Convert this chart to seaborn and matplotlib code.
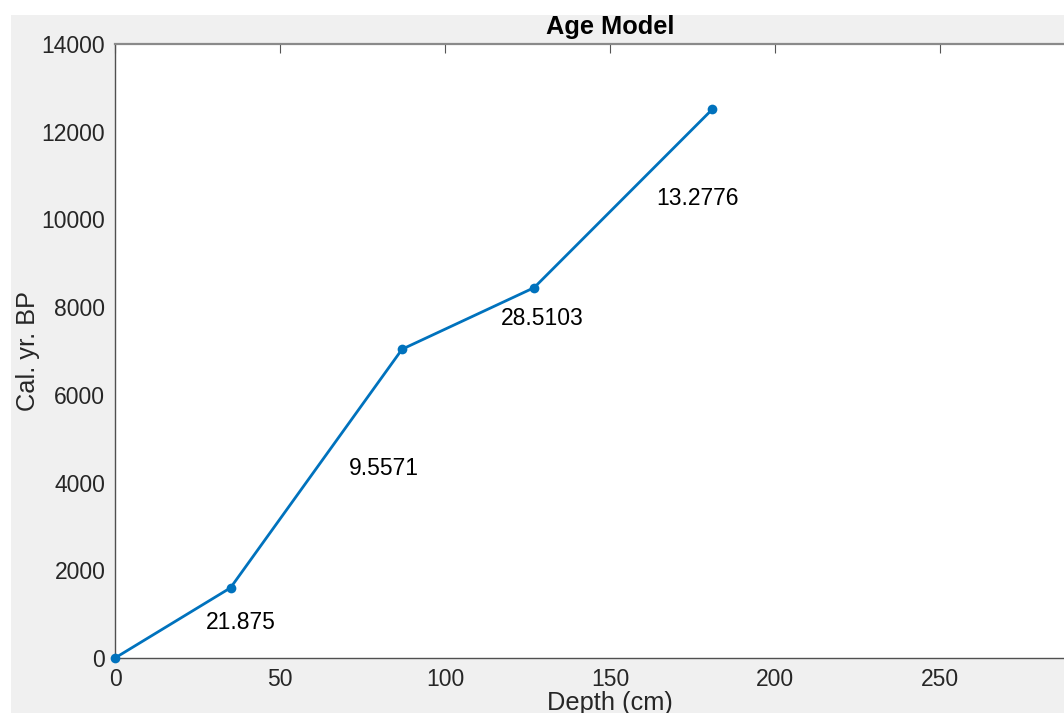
import matplotlib
matplotlib.use("Agg")
import matplotlib.pyplot as plt
from matplotlib.patches import Rectangle
import seaborn as sns
import pandas as pd

depth = [0, 35, 87, 127, 181]
age = [0, 1600, 7041, 8444, 12511]
rate_labels = ["21.875", "9.5571", "28.5103", "13.2776"]
x_ticks = [0, 50, 100, 150, 200, 250]
y_ticks = [0, 2000, 4000, 6000, 8000, 10000, 12000, 14000]

sns.set_style("white")
plt.rcParams['font.family'] = ['Liberation Sans', 'DejaVu Sans']

W, H = 1064, 713
fig = plt.figure(figsize=(W / 100, H / 100), dpi=100)
fig.patch.set_facecolor("white")
bg = Rectangle((11 / W, 0), 1, 1 - 15 / H, transform=fig.transFigure,
               facecolor="#f0f0f0", edgecolor="none", zorder=-10)
fig.add_artist(bg)

left, top, bottom = 115, 44, 658
xmax = 300
px_per_x = 3.3
ax = fig.add_axes([left / W, (H - bottom) / H, xmax * px_per_x / W, (bottom - top) / H])
ax.set_facecolor("white")

df = pd.DataFrame({"depth": depth, "age": age})
sns.lineplot(data=df, x="depth", y="age", ax=ax, color="#0072BD", linewidth=2.0,
             marker="o", markersize=7, markeredgewidth=0, clip_on=False, zorder=5)

for i, lab in enumerate(rate_labels):
    mx = (depth[i] + depth[i + 1]) / 2 + 10
    my = (age[i] + age[i + 1]) / 2
    ax.text(mx, my, lab, ha="left", va="center", fontsize=16.5, color="black")

ax.set_xlim(0, xmax)
ax.set_ylim(0, 14000)
ax.set_xticks(x_ticks)
ax.set_yticks(y_ticks)
ax.tick_params(direction="in", length=6.5, width=0.8, color="#555555",
               labelsize=16.5, labelcolor="#262626", top=True, right=True, pad=7)
for s in ax.spines.values():
    s.set_color("#505050")
    s.set_linewidth(1.0)
ax.spines["top"].set_color("#8a8a8a")
ax.spines["top"].set_linewidth(1.6)

ax.set_title("Age Model", fontsize=18.3, fontweight="bold", color="black", pad=7)
ax.set_xlabel("Depth (cm)", fontsize=18.3, color="#262626", labelpad=0)
ax.set_ylabel("Cal. yr. BP", fontsize=18.3, color="#262626", labelpad=1)

fig.savefig("out.png", dpi=100, facecolor=fig.get_facecolor())
